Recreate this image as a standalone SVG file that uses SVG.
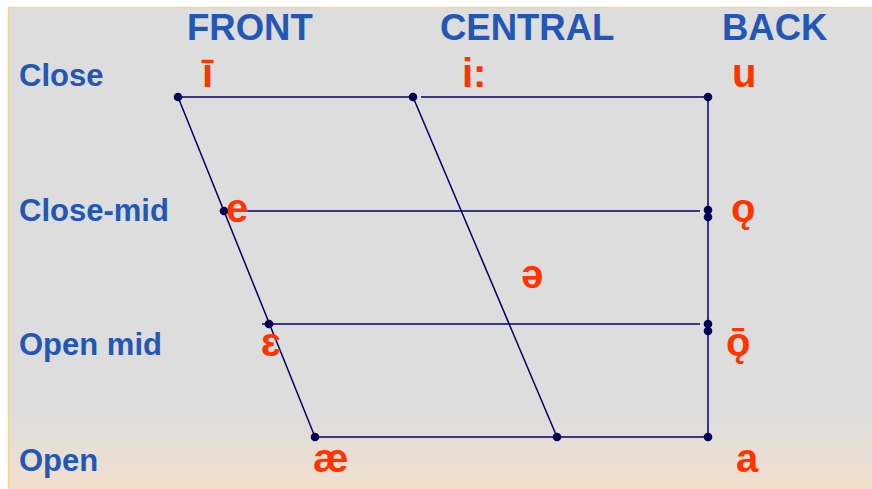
<svg xmlns="http://www.w3.org/2000/svg" width="872" height="489" viewBox="0 0 872 489">
<defs>
<linearGradient id="bg" x1="0" y1="0" x2="0" y2="1">
<stop offset="0" stop-color="#DDDDDD"/>
<stop offset="0.84" stop-color="#DDDDDD"/>
<stop offset="1" stop-color="#F2DFCC"/>
</linearGradient>
<style>
.hd{font-family:"Liberation Sans",Arial,sans-serif;font-weight:bold;font-size:36.5px;fill:#2257B5}
.rw{font-family:"Liberation Sans",Arial,sans-serif;font-weight:bold;font-size:31px;fill:#2257B5}
.sy{font-family:"Liberation Sans","DejaVu Sans",Arial,sans-serif;font-weight:bold;font-size:40px;fill:#FF3300}
.ln{stroke:#000066;stroke-width:1.5;fill:none}
.dt{fill:#000055}
</style>
</defs>
<rect x="0" y="0" width="872" height="489" fill="#FFFFFF"/>
<rect x="8" y="8" width="864" height="481" fill="url(#bg)"/>
<line x1="8" y1="7.5" x2="872" y2="7.5" stroke="#F0D79A" stroke-width="1.5"/>
<line x1="8.5" y1="7" x2="8.5" y2="489" stroke="#F7D58C" stroke-width="1.5"/>

<g id="headers">
<text class="hd" x="187" y="40">FRONT</text>
<text class="hd" x="440" y="40">CENTRAL</text>
<text class="hd" x="722" y="40">BACK</text>
</g>
<g id="rows">
<text class="rw" x="19" y="86">Close</text>
<text class="rw" x="19" y="221">Close-mid</text>
<text class="rw" x="19" y="355">Open mid</text>
<text class="rw" x="19" y="471">Open</text>
</g>

<g id="connectors">
<line class="ln" x1="178" y1="97" x2="413" y2="97"/>
<line class="ln" x1="421" y1="97" x2="708" y2="97"/>
<line class="ln" x1="178" y1="97" x2="315" y2="437"/>
<line class="ln" x1="413" y1="97" x2="557" y2="437"/>
<line class="ln" x1="708" y1="97" x2="708" y2="437"/>
<line class="ln" x1="224" y1="211" x2="700" y2="211"/>
<line class="ln" x1="262" y1="324" x2="700" y2="324"/>
<line class="ln" x1="315" y1="437" x2="708" y2="437"/>
</g>

<g id="points">
<circle class="dt" cx="178" cy="97" r="4.3"/>
<circle class="dt" cx="413" cy="97" r="4.3"/>
<circle class="dt" cx="708" cy="97" r="4.3"/>
<circle class="dt" cx="224" cy="211" r="4.3"/>
<circle class="dt" cx="708" cy="210" r="4.3"/>
<circle class="dt" cx="708" cy="217" r="4.3"/>
<circle class="dt" cx="269" cy="324" r="4.3"/>
<circle class="dt" cx="708" cy="324" r="4.3"/>
<circle class="dt" cx="708" cy="331" r="4.3"/>
<circle class="dt" cx="315" cy="437" r="4.3"/>
<circle class="dt" cx="557" cy="437" r="4.3"/>
<circle class="dt" cx="708" cy="437" r="4.3"/>
</g>

<g id="vowels">
<text class="sy" x="202" y="87">ī</text>
<text class="sy" x="462" y="87">i:</text>
<text class="sy" x="732" y="87">u</text>
<text class="sy" x="226" y="222">e</text>
<text class="sy" x="731" y="222">ǫ</text>
<text class="sy" x="521" y="288">ə</text>
<text class="sy" x="261" y="356">ɛ</text>
<text class="sy" x="726" y="356">ǭ</text>
<text class="sy" x="313" y="472">æ</text>
<text class="sy" x="736" y="472">a</text>
</g>
</svg>
